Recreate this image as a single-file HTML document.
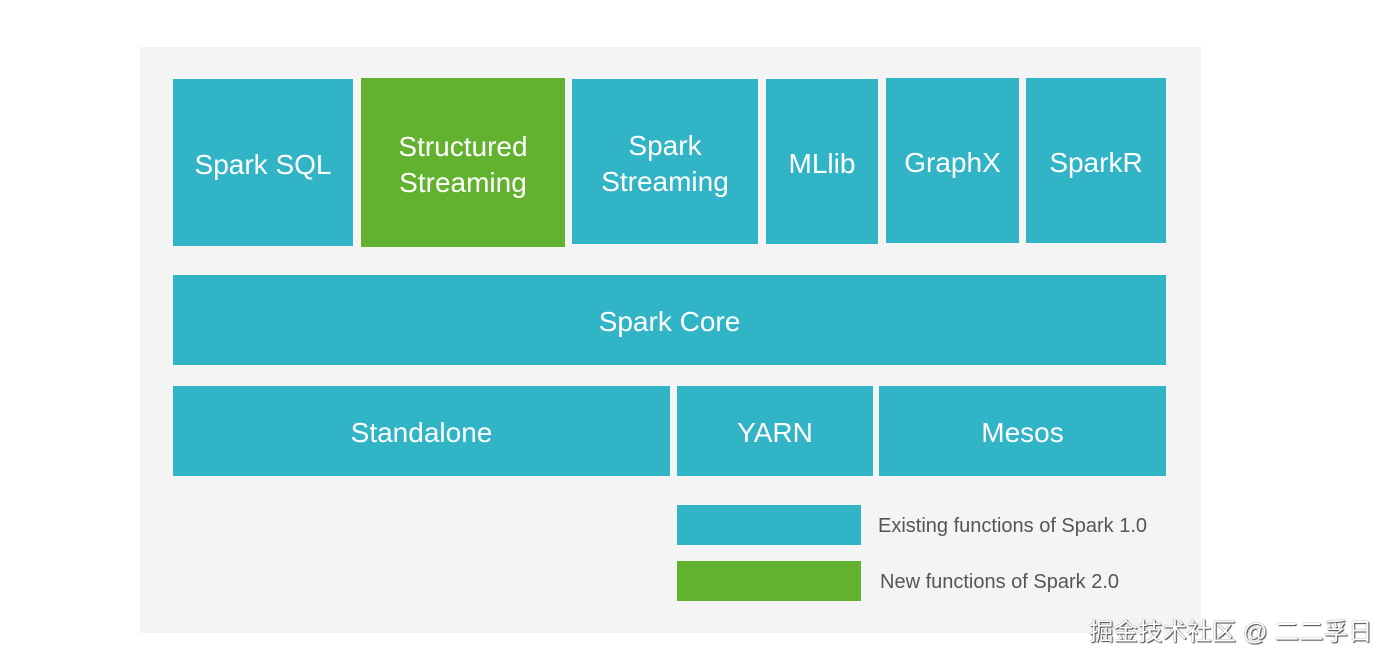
<!DOCTYPE html>
<html><head><meta charset="utf-8"><style>
body{margin:0;width:1394px;height:660px;background:#fff;position:relative;overflow:hidden;font-family:"Liberation Sans","DejaVu Sans",sans-serif}
.p{position:absolute;left:140px;top:47px;width:1061px;height:586px;background:#f4f4f4}
.b{position:absolute;background:#31b4c6;color:#fff;font-size:28px;display:flex;align-items:center;justify-content:center;text-align:center;line-height:36px;padding-top:4px;box-sizing:border-box}
.g{background:#63b22f}
.t{position:absolute;color:#555;font-size:20px}
.w{position:absolute;left:1089px;top:613px;font-size:24.5px;color:#fff;text-shadow:0 0 1px #444,1px 1px 1px #444;font-family:"Liberation Sans","Noto Sans CJK SC",sans-serif}
</style></head><body>
<div class="p"></div>
<div class="b" style="left:173px;top:79px;width:180px;height:167px">Spark SQL</div>
<div class="b g" style="left:361px;top:78px;width:204px;height:169px">Structured<br>Streaming</div>
<div class="b" style="left:572px;top:79px;width:186px;height:165px">Spark<br>Streaming</div>
<div class="b" style="left:766px;top:79px;width:112px;height:165px">MLlib</div>
<div class="b" style="left:886px;top:78px;width:133px;height:165px">GraphX</div>
<div class="b" style="left:1026px;top:78px;width:140px;height:165px">SparkR</div>
<div class="b" style="left:173px;top:275px;width:993px;height:90px">Spark Core</div>
<div class="b" style="left:173px;top:386px;width:497px;height:90px">Standalone</div>
<div class="b" style="left:677px;top:386px;width:196px;height:90px">YARN</div>
<div class="b" style="left:879px;top:386px;width:287px;height:90px">Mesos</div>
<div class="b" style="left:677px;top:505px;width:184px;height:40px"></div>
<div class="b g" style="left:677px;top:561px;width:184px;height:40px"></div>
<div class="t" style="left:878px;top:515px">Existing functions of Spark 1.0</div>
<div class="t" style="left:880px;top:571px">New functions of Spark 2.0</div>
<div class="w">掘金技术社区 @ 二二孚日</div>
</body></html>
